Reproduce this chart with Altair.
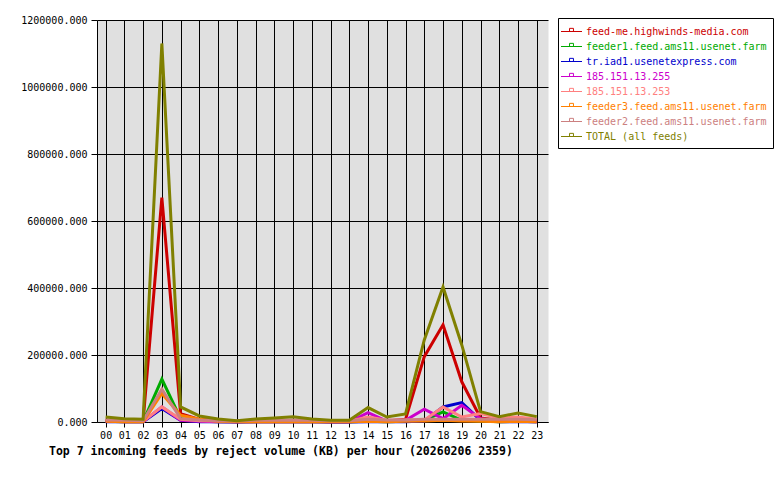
import altair as alt
import pandas as pd

hours = list(range(24))
hour_labels = [f"{h:02d}" for h in hours]

series_names = [
    "feed-me.highwinds-media.com",
    "feeder1.feed.ams11.usenet.farm",
    "tr.iad1.usenetexpress.com",
    "185.151.13.255",
    "185.151.13.253",
    "feeder3.feed.ams11.usenet.farm",
    "feeder2.feed.ams11.usenet.farm",
    "TOTAL (all feeds)",
]
colors = ["#cc0000", "#00aa00", "#0000cc", "#cc00cc", "#ff8080", "#ff8000", "#cc8080", "#808000"]

feed_me = [5000, 3000, 2000, 670000, 25000, 8000, 3000, 1000, 2000, 2000, 3000, 2000,
           1000, 1000, 5000, 3000, 8000, 195000, 290000, 120000, 12000, 5000, 8000, 4000]
feeder1 = [2000, 1000, 1000, 128000, 10000, 3000, 1000, 500, 1000, 1000, 1000, 1000,
           500, 500, 2000, 1000, 2000, 5000, 30000, 5000, 3000, 1000, 2000, 1000]
tr_iad1 = [1000, 500, 500, 40000, 5000, 1000, 500, 300, 500, 500, 500, 500,
           300, 300, 1000, 500, 1000, 3000, 45000, 58000, 5000, 1000, 1000, 500]
ip_255 = [3000, 1000, 1000, 45000, 5000, 2000, 1000, 500, 1000, 1000, 1000, 1000,
          500, 500, 28000, 3000, 5000, 38000, 10000, 50000, 10000, 2000, 2000, 1000]
ip_253 = [4000, 3000, 2000, 45000, 8000, 4000, 3000, 2000, 3000, 3000, 4000, 3000,
          2000, 2000, 15000, 5000, 6000, 5000, 45000, 15000, 25000, 12000, 15000, 8000]
feeder3 = [2000, 1000, 1000, 85000, 20000, 8000, 2000, 500, 1000, 1000, 1000, 1000,
           500, 500, 2000, 1000, 2000, 3000, 5000, 3000, 2000, 1000, 2000, 1000]
feeder2 = [6000, 5000, 4000, 98000, 10000, 6000, 4000, 3000, 5000, 5000, 6000, 5000,
           4000, 4000, 8000, 6000, 6000, 8000, 8000, 8000, 8000, 8000, 8000, 7000]
total = [15000, 10000, 8000, 1130000, 45000, 18000, 9000, 4000, 9000, 12000, 16000, 9000,
         5000, 5000, 43000, 15000, 24000, 245000, 403000, 230000, 31000, 16000, 27000, 16000]

values = [feed_me, feeder1, tr_iad1, ip_255, ip_253, feeder3, feeder2, total]
y_ticks = [0, 200000, 400000, 600000, 800000, 1000000, 1200000]

rows = []
for name, vals in zip(series_names, values):
    for h, v in zip(hours, vals):
        rows.append({"hour": h, "feed": name, "kb": v})
df = pd.DataFrame(rows)

FONT = "DejaVu Sans Mono"

x_enc = alt.X(
    "hour:Q",
    scale=alt.Scale(domain=[-0.46, 23.6], nice=False, zero=False),
    axis=alt.Axis(
        values=hours,
        labelExpr="datum.value < 10 ? '0' + datum.value : '' + datum.value",
        title=None,
        grid=True,
        gridColor="black",
        gridOpacity=1,
        gridWidth=1,
        domainColor="black",
        tickColor="black",
        tickSize=5,
        labelFont=FONT,
        labelFontSize=10,
        labelColor="black",
        labelPadding=3,
    ),
)
y_enc = alt.Y(
    "kb:Q",
    scale=alt.Scale(domain=[0, 1200000], nice=False),
    axis=alt.Axis(
        values=y_ticks,
        format=".3f",
        title=None,
        grid=True,
        gridColor="black",
        gridOpacity=1,
        gridWidth=1,
        domainColor="black",
        tickColor="black",
        tickSize=6,
        labelFont=FONT,
        labelFontSize=10,
        labelColor="black",
        labelPadding=4,
    ),
)
color_enc = alt.Color(
    "feed:N",
    scale=alt.Scale(domain=series_names, range=colors),
    legend=alt.Legend(
        title=None,
        orient="none",
        legendX=461,
        legendY=-2,
        padding=6,
        strokeColor="black",
        fillColor="white",
        symbolType="M-1.5,0H1.5M-0.28,-0.45H0.28V0H-0.28Z",
        symbolSize=196,
        symbolStrokeWidth=1,
        symbolFillColor="white",
        labelFont=FONT,
        labelFontSize=10,
        labelOffset=7,
        labelColor={"expr": "scale('color', datum.value)"},
        rowPadding=2,
        labelLimit=400,
    ),
)

layers = []
for name in series_names:
    layers.append(
        alt.Chart(df)
        .transform_filter(alt.datum.feed == name)
        .mark_line(strokeWidth=3)
        .encode(x=x_enc, y=y_enc, color=color_enc)
    )

chart = (
    alt.layer(*layers)
    .properties(
        width=451,
        height=402,
        autosize=alt.AutoSizeParams(type="none"),
        padding={"left": 97, "top": 20, "right": 232, "bottom": 58},
        title=alt.TitleParams(
            "Top 7 incoming feeds by reject volume (KB) per hour (20260206 2359)",
            orient="bottom",
            anchor="start",
            frame="group",
            dx=-48,
            offset=6,
            font=FONT,
            fontSize=11.5,
            fontWeight="bold",
            color="black",
        ),
    )
    .configure(background="white")
    .configure_view(fill="#e0e0e0", stroke="transparent")
)

chart.save("out.html", embed_options={"renderer": "svg", "actions": False})
